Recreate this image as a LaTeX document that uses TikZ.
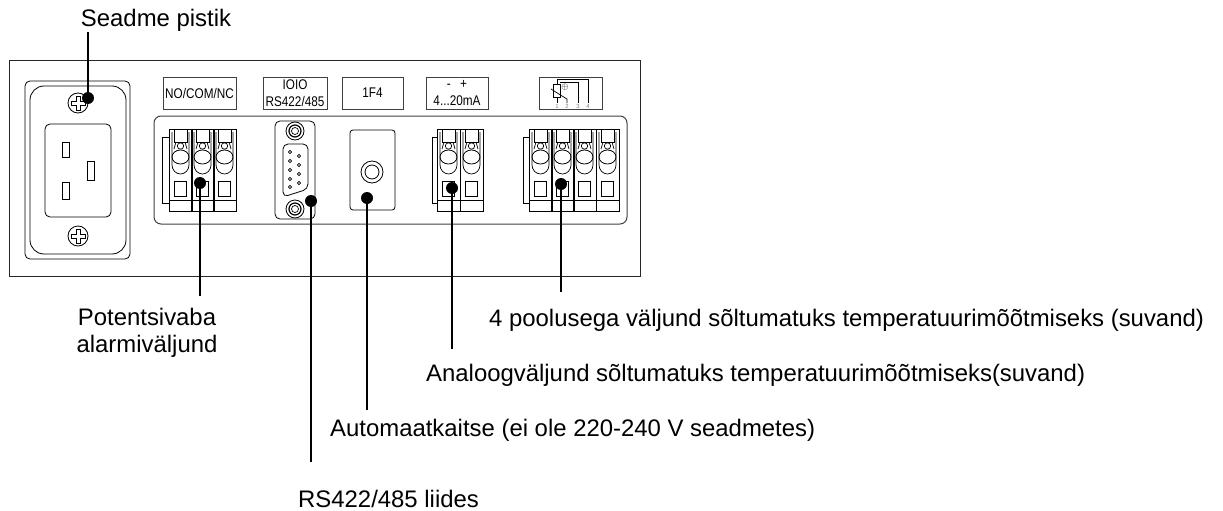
\documentclass[tikz,border=0pt]{standalone}
\usepackage{fontspec}
\usepackage{graphicx}
\setmainfont{Liberation Sans}
\tikzset{
  x=1pt,y=-1pt,
  ln/.style={draw=black,line width=0.8pt},
  tn/.style={draw=black,line width=0.7pt},
  lead/.style={draw=black,line width=1.2pt},
  dotn/.style={circle,fill=black,inner sep=0pt,minimum size=12pt},
  lab/.style={font=\fontsize{23.9pt}{27pt}\selectfont,inner sep=0pt,align=center},
  tag/.style={draw=black!75,line width=0.9pt,font=\fontsize{14pt}{17pt}\selectfont,inner sep=0pt,align=center},
  cell/.pic={
    \draw[draw=black,line width=1pt] (0,0) rectangle (23,82);
    \draw[tn] (5,0) -- (5,13) -- (18,13) -- (18,0);
    \draw[tn] (3,3) -- (3,36) .. controls (3,41) and (7,45) .. (11.5,45) .. controls (16,45) and (20,41) .. (20,36) -- (20,3);
    \draw[tn] (7,13) -- (5,20) (16,13) -- (18,20);
    \draw[tn] (11.5,17) circle[radius=3.2];
    \draw[ln] (11.5,28) ellipse[x radius=8.5,y radius=7];
    \draw[tn] (5,52) rectangle (17,67);
    \draw[tn] (0,71) -- (23,71);
  },
  screw/.pic={
    \draw[ln] (0,0) circle[radius=10];
    \draw[tn] (-2,-7) -- (2,-7) -- (2,-2) -- (7,-2) -- (7,2) -- (2,2) -- (2,7) -- (-2,7) -- (-2,2) -- (-7,2) -- (-7,-2) -- (-2,-2) -- cycle;
  },
  bolt/.pic={
    \draw[ln] (0,0) circle[radius=9];
    \draw[draw=black,line width=1.2pt] (0,0) circle[radius=6];
    \draw[tn] (0,0) circle[radius=3.5];
  },
}
\begin{document}
\begin{tikzpicture}
\useasboundingbox (0,0) rectangle (1223,511);
% housing
\draw[draw=black!85,line width=0.9pt] (9,60) rectangle (640,276);
% mains socket
\draw[ln,rounded corners=5pt] (25,81) rectangle (130,259);
\draw[ln,rounded corners=14pt] (30,86) rectangle (126,254);
\draw[ln,rounded corners=5pt] (45,124) rectangle (111,217);
\draw[tn] (62,142) rectangle (69,157);
\draw[tn] (87,161) rectangle (94,180);
\draw[tn] (62,182) rectangle (69,199);
\pic at (78,103) {screw};
\pic at (78,236) {screw};
% panel
\draw[draw=black!75,line width=1pt,rounded corners=7pt] (154,116) rectangle (627,224);
% tags
\node[tag,minimum width=73pt,minimum height=32pt] (tagno) at (199.5,93) {\scalebox{.84}[1]{NO/COM/NC}};
\node[tag,minimum width=64pt,minimum height=32pt] (tagrs) at (295,93) {\scalebox{.84}[1]{IOIO}\\\scalebox{.84}[1]{RS422/485}};
\node[tag,minimum width=61pt,minimum height=32pt] (tagf) at (372.5,93) {\scalebox{.84}[1]{1F4}};
\node[tag,minimum width=62pt,minimum height=32pt] (tagma) at (457,93) {\scalebox{.84}[1]{-\hspace{11pt}+}\\\scalebox{.84}[1]{4...20mA}};
\node[tag,minimum width=63pt,minimum height=32pt] (tagt) at (570.5,93) {};
% thermistor symbol
\draw[tn] (557,84) -- (557,79) -- (588,79) -- (588,103);
\draw[tn] (560,82) -- (578,82) -- (578,103);
\draw[ln] (553,84) rectangle (560,97);
\draw[tn] (557,97) -- (557,103);
\draw[tn] (551,89) -- (562,96) -- (567,99) -- (567,103);
\node[inner sep=0pt,font=\fontsize{9pt}{9pt}\selectfont] (tsym) at (565,87) {$\oplus$};
\foreach \px/\pn in {557/1,567/2,578/3,588/4}{
  \node[inner sep=0pt,text=black!50,font=\fontsize{6pt}{6pt}\selectfont] (tp\pn) at (\px,106) {\pn};
}
% alarm terminals
\draw[tn] (169,137) -- (162,137) -- (162,203) -- (169,203);
\pic at (169,129) {cell};
\pic at (191,129) {cell};
\pic at (213,129) {cell};
% D-sub
\draw[ln,rounded corners=5pt] (275,121) rectangle (315,219);
\pic at (295,131) {bolt};
\pic at (295,209) {bolt};
\draw[ln,rounded corners=5pt] (283,144) -- (308,144) -- (308,189) -- (283,197) -- cycle;
\foreach \py in {152,161,170,179,187}{\draw[tn] (290,\py) circle[radius=1.6];}
\foreach \py in {156,165,174,183}{\draw[tn] (299,\py) circle[radius=1.6];}
% fuse
\draw[ln,rounded corners=3pt] (350,130) rectangle (395,210);
\draw[ln] (372,172) circle[radius=11];
\draw[ln] (372,172) circle[radius=7];
% analogue terminals
\draw[tn] (437,137) -- (432,137) -- (432,203) -- (437,203);
\pic at (437,129) {cell};
\pic at (460,129) {cell};
% sensor terminals
\draw[tn] (529,137) -- (523,137) -- (523,203) -- (529,203);
\pic at (529,129) {cell};
\pic at (551,129) {cell};
\pic at (573,129) {cell};
\pic at (596,129) {cell};
% dots
\node[dotn] (dplug) at (88,98) {};
\node[dotn] (dalarm) at (200,183) {};
\node[dotn] (drs) at (311,201) {};
\node[dotn] (dfuse) at (367,198) {};
\node[dotn] (dma) at (452,188) {};
\node[dotn] (dsens) at (561,184) {};
% free ends
\coordinate (eplug) at (88,32);
\coordinate (ealarm) at (200,296);
\coordinate (ers) at (311,462);
\coordinate (efuse) at (367,410);
\coordinate (ema) at (452,349);
\coordinate (esens) at (561,292);
\draw[lead] (dplug.center) -- (eplug);
\draw[lead] (dalarm.center) -- (ealarm);
\draw[lead] (drs.center) -- (ers);
\draw[lead] (dfuse.center) -- (efuse);
\draw[lead] (dma.center) -- (ema);
\draw[lead] (dsens.center) -- (esens);
% labels
\node[lab,anchor=base] (lplug) at (156,27) {Seadme pistik};
\node[lab] (lalarm) at (147,333) {Potentsivaba\\alarmiväljund};
\node[lab,anchor=base west] (lsens) at (489,326) {4 poolusega väljund sõltumatuks temperatuurimõõtmiseks (suvand)};
\node[lab,anchor=base west] (lma) at (426,381) {Analoogväljund sõltumatuks temperatuurimõõtmiseks(suvand)};
\node[lab,anchor=base west] (lfuse) at (330,436) {Automaatkaitse (ei ole 220-240 V seadmetes)};
\node[lab,anchor=base west] (lrs) at (298,507) {RS422/485 liides};
\end{tikzpicture}
\end{document}
